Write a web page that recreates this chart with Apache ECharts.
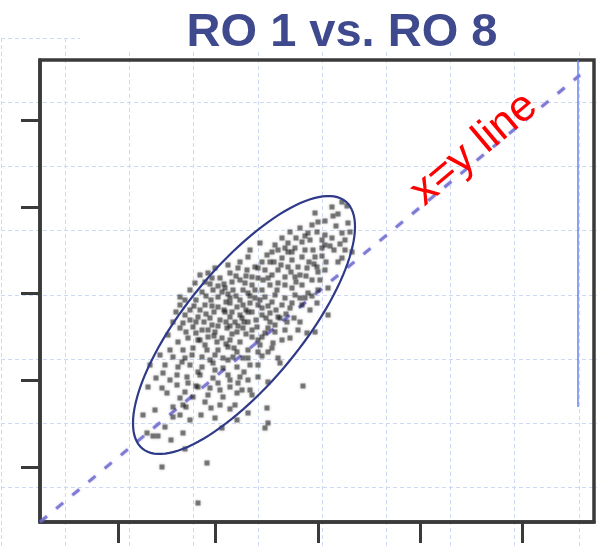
<!DOCTYPE html>
<html><head><meta charset="utf-8">
<script src="https://cdn.jsdelivr.net/npm/echarts@6/dist/echarts.min.js"></script>
<style>html,body{margin:0;padding:0;background:#fff;}#c{width:597px;height:549px;}</style>
</head><body><div id="c"></div>
<script>
const titleText = 'RO 1 vs. RO 8';
const annotationText = 'x=y line';
const xTickValues = [0.78, 1.75, 2.78, 3.80, 4.82];
const yTickValues = [0.55, 1.42, 2.29, 3.15, 4.02];
const xRange = [0, 5.54];
const yRange = [0, 4.62];
const diagonalLine = [[0, 0], [5.40, 4.47]];
const markerLine = [[5.38, 4.62], [5.38, 1.15]];
const ellipseCenter = [2.04, 1.97];
const ellipseSemiAxes = [1.60, 0.58];
const ellipseAngleDeg = 50.6;
const scatterPoints = [
[3.02,3.20],[2.92,3.15],[3.07,3.16],[2.75,3.09],[2.93,3.06],[2.85,3.01],[3.08,2.99],[2.72,2.97],[2.60,2.94],[2.77,2.90],
[2.85,2.87],[2.68,2.89],[3.02,2.89],[3.10,2.90],[2.82,2.82],[2.85,2.77],[3.05,2.82],[2.42,2.84],[2.20,2.79],[2.48,2.79],
[2.62,2.80],[2.55,2.74],[2.32,2.70],[2.38,2.72],[2.48,2.70],[2.73,2.72],[2.82,2.74],[3.05,2.72],[3.12,2.70],[2.27,2.67],
[2.08,2.65],[2.42,2.64],[2.52,2.62],[2.62,2.65],[2.75,2.65],[3.02,2.64],[2.48,2.55],[2.58,2.55],[2.67,2.54],[2.77,2.55],
[2.85,2.52],[2.38,2.52],[2.25,2.52],[2.15,2.55],[2.45,2.45],[2.55,2.45],[2.72,2.42],[2.80,2.42],[2.62,2.37],[2.38,2.39],
[2.52,2.34],[2.78,2.32],[2.68,2.29],[2.07,2.52],[2.12,2.45],[2.18,2.44],[2.12,2.37],[2.22,2.32],[2.08,2.29],[2.30,2.37],
[2.37,2.32],[2.25,2.25],[2.15,2.24],[2.96,2.96],[2.90,2.76],[2.98,2.60],[2.70,2.82],[2.50,2.90],[2.30,2.60],[2.00,2.60],
[2.88,2.34],
[1.68,2.49],[1.80,2.44],[1.90,2.49],[1.98,2.54],[2.00,2.42],[1.85,2.34],[1.73,2.32],[1.62,2.30],[1.93,2.32],[2.03,2.32],
[1.40,2.25],[1.78,2.25],[1.90,2.24],[1.55,2.39],[1.50,2.32],[1.45,2.22],[1.65,2.40],[1.88,2.57],[1.75,2.54],
[1.40,2.17],[1.65,2.17],[1.78,2.15],[1.90,2.19],[1.97,2.15],[2.03,2.17],[1.33,2.00],[1.43,1.99],[1.58,2.05],[1.70,2.04],
[1.80,2.02],[1.90,2.05],[2.00,2.07],[1.40,1.94],[1.53,1.95],[1.62,1.92],[1.75,1.90],[1.87,1.94],[1.97,1.90],[2.03,1.94],
[1.38,1.80],[1.48,1.84],[1.58,1.82],[1.68,1.85],[1.77,1.80],[1.90,1.82],[2.00,1.80],[1.30,1.72],[1.43,1.72],[1.53,1.74],
[1.67,1.72],[1.78,1.72],[1.88,1.75],[1.97,1.70],[1.20,1.67],[1.33,1.65],[1.45,1.64],[1.62,1.65],[1.70,1.62],[1.83,1.64],
[1.93,1.65],[2.03,1.64],[1.10,1.57],[1.25,1.57],[1.38,1.55],[1.50,1.57],[1.62,1.55],[1.73,1.59],[1.83,1.54],[1.97,1.55],
[1.23,1.49],[1.37,1.47],[1.47,1.45],[1.60,1.47],[1.73,1.44],[1.88,1.47],[2.00,1.45],[1.08,1.35],[1.22,1.34],[1.37,1.37],
[1.48,1.39],[1.58,1.35],[1.70,1.34],[1.78,1.39],[1.90,1.35],[1.98,1.39],[1.27,1.29],[1.40,1.24],[1.53,1.25],[1.68,1.27],
[1.83,1.25],[1.97,1.29],[1.33,1.15],[1.43,1.17],[1.50,2.12],[1.60,2.12],[1.85,2.10],[1.95,2.00],[1.72,1.97],[1.82,1.84],
[1.56,1.89],[1.45,2.07],[1.36,2.10],[1.28,1.87],
[2.10,2.19],[2.18,2.17],[2.32,2.20],[2.42,2.17],[2.52,2.19],[2.62,2.17],[2.77,2.19],[2.08,2.10],[2.22,2.07],[2.30,2.09],
[2.38,2.05],[2.47,2.00],[2.60,2.00],[2.88,2.07],[2.08,2.00],[2.17,1.95],[2.25,1.89],[2.35,1.90],[2.45,1.92],[2.67,1.89],
[2.75,1.90],[2.12,1.85],[2.22,1.85],[2.33,1.79],[2.42,1.82],[2.08,1.72],[2.18,1.70],[2.38,1.64],[2.40,1.59],[2.18,1.57],
[2.10,1.57],[2.18,1.45],[2.08,1.42],[2.28,1.40],[2.63,1.36],[2.10,1.32],[2.27,1.14],[2.55,2.27],[2.45,2.24],[2.65,2.24],
[2.70,2.12],[2.30,2.00],[2.20,1.77],[2.28,1.70],[2.04,1.50],[2.12,1.27],
[1.03,1.07],[1.33,1.05],[1.40,1.07],[1.61,1.07],[1.82,0.94],[1.07,0.89],[1.13,0.86],[1.18,0.86],[1.25,0.95],[1.31,0.82],
[1.43,0.89],[1.45,0.73],[1.22,0.55],[1.67,0.59],[1.58,0.19],[2.08,1.09],[2.28,0.99],[2.25,0.94],[1.46,1.15],[1.71,1.14],
[1.90,1.13],[1.15,1.12],[1.50,1.02],[1.75,1.04],[1.97,1.02],
[1.56,2.22],[1.71,2.22],[1.86,2.20],[1.96,2.26],[2.06,2.12],[2.16,2.02],[2.28,2.16],[2.36,2.12],[2.46,2.08],[2.54,2.04],
[1.70,2.38],[1.82,2.30],[1.92,2.40],[2.05,2.39],[2.15,2.32],[2.23,2.42],[2.32,2.47],[2.41,2.57],[2.51,2.50],[2.60,2.47],
[2.69,2.60],[2.78,2.50],[2.86,2.60],[2.94,2.72],[3.00,2.78],[2.65,2.72],[2.56,2.84],[2.45,2.74],[2.35,2.77],[2.22,2.60],
[2.10,2.72],[1.64,2.00],[1.74,2.10],[1.86,2.00],[1.92,1.88],[2.04,2.00],[2.12,1.92],[2.22,2.14],[1.65,1.77],[1.75,1.67],
[1.88,1.62],[1.52,1.67],[1.58,1.50],[1.75,1.52],[1.90,1.42],[1.45,1.30],[1.30,1.42],[1.16,1.44],[2.02,1.32],[1.95,1.17],
[1.80,1.17],[1.65,1.20],
[1.60,2.47],[1.72,2.44],[1.84,2.38],[1.96,2.46],[2.06,2.46],[1.78,2.36],[1.66,2.26],[1.88,2.28],[2.00,2.22],[2.10,2.26],
[2.20,2.22],[1.54,2.16],[1.72,2.16],[1.84,2.12],[1.92,2.10],[2.02,2.04],[2.12,2.10],[2.26,2.04],[2.35,1.97],[1.50,2.02],
[1.66,2.08],[1.78,1.96],[1.90,1.96],[1.68,1.92],[1.46,1.90],[1.60,1.82],[1.86,1.78],[2.06,1.88],[2.18,1.82],[2.28,1.94],
[2.40,2.04],[2.50,2.14],[2.60,2.24],[2.72,2.26],[2.35,2.27],[2.45,2.37],[2.56,2.40],[2.66,2.46],[2.74,2.58],[2.82,2.66],
[2.92,2.84],[2.28,2.44],[2.18,2.54],[2.34,2.60],[2.52,2.70],[2.65,2.86],[2.78,3.00],[2.98,3.08],[1.56,2.00],[1.98,1.96],
[1.74,1.86],[1.94,1.74],[2.08,1.64],[2.22,1.66],[2.32,1.74],[2.50,1.84],[2.58,1.92],[1.42,1.60],[1.56,1.36],[1.80,1.32]
];

const chart = echarts.init(document.getElementById('c'), null, {renderer: 'canvas'});
const bgAxis = {
  show: true, axisLine: {show: false}, axisTick: {show: false}, axisLabel: {show: false},
  splitLine: {show: true, lineStyle: {color: '#cfd9f5', width: 1, type: [4, 3]}}
};
const frameColor = '#3a3a3a';
chart.setOption({
  animation: false,
  backgroundColor: '#ffffff',
  title: {
    text: titleText, left: 337, top: 5, textAlign: 'center', z: 10,
    textStyle: {fontFamily: '"Liberation Sans", Arial, sans-serif', fontSize: 47, fontWeight: 'bold', color: '#3f4a8e'}
  },
  graphic: [
    {type: 'rect', left: 80, top: 0, z: 5, shape: {width: 517, height: 52}, style: {fill: '#ffffff'}},
    {type: 'text', x: 474, y: 149, rotation: 40 * Math.PI / 180, z: 20,
     style: {text: annotationText, fill: '#ff0000', font: '44px "Liberation Sans", Arial, sans-serif', align: 'center', verticalAlign: 'middle'}}
  ],
  grid: [
    {left: 40, right: 3, top: 60, bottom: 27, show: true, borderColor: frameColor, borderWidth: 3.5, backgroundColor: 'transparent', z: 3},
    {left: 1, right: 0, top: 38, bottom: 0}
  ],
  xAxis: [
    {type: 'value', gridIndex: 0, min: xRange[0], max: xRange[1], z: 4,
     axisLine: {show: true, onZero: false, lineStyle: {color: frameColor, width: 3.5}},
     axisTick: {show: true, customValues: xTickValues, length: 21, inside: false, lineStyle: {color: frameColor, width: 3}},
     axisLabel: {show: false}, splitLine: {show: false}},
    Object.assign({type: 'value', gridIndex: 1, min: 0, max: 596, interval: 64.2}, bgAxis)
  ],
  yAxis: [
    {type: 'value', gridIndex: 0, min: yRange[0], max: yRange[1], z: 4,
     axisLine: {show: true, onZero: false, lineStyle: {color: frameColor, width: 3.5}},
     axisTick: {show: true, customValues: yTickValues, length: 19, inside: false, lineStyle: {color: frameColor, width: 3}},
     axisLabel: {show: false}, splitLine: {show: false}},
    Object.assign({type: 'value', gridIndex: 1, min: 0, max: 511, interval: 64.2, inverse: true}, bgAxis)
  ],
  series: [
    {type: 'line', xAxisIndex: 0, yAxisIndex: 0, data: diagonalLine, symbol: 'none', z: 5,
     lineStyle: {color: 'rgba(110,105,205,0.8)', width: 3, type: [9, 12], shadowBlur: 2, shadowColor: 'rgba(105,105,215,0.6)'}},
    {type: 'scatter', xAxisIndex: 0, yAxisIndex: 0, data: scatterPoints, symbol: 'rect', symbolSize: 5, z: 6,
     itemStyle: {color: 'rgba(25,25,25,0.62)', shadowBlur: 3, shadowColor: 'rgba(0,0,0,0.55)'}},
    {type: 'line', xAxisIndex: 0, yAxisIndex: 0, data: markerLine, symbol: 'none', z: 7,
     lineStyle: {color: '#6384f0', width: 1.5}},
    {type: 'custom', xAxisIndex: 0, yAxisIndex: 0, data: [ellipseCenter], z: 8,
     renderItem: function (params, api) {
       const c = api.coord([api.value(0), api.value(1)]);
       const s = api.size([1, 1]);
       const a = ellipseSemiAxes[0] * s[0], b = ellipseSemiAxes[1] * s[1];
       const th = ellipseAngleDeg * Math.PI / 180;
       const pts = [];
       for (let i = 0; i < 120; i++) {
         const t = i / 120 * Math.PI * 2;
         const u = a * Math.cos(t), v = b * Math.sin(t);
         pts.push([c[0] + u * Math.cos(th) - v * Math.sin(th), c[1] - (u * Math.sin(th) + v * Math.cos(th))]);
       }
       return {type: 'polygon', shape: {points: pts}, style: {fill: 'rgba(0,0,0,0)', stroke: '#2f3a88', lineWidth: 2.2}};
     }}
  ]
});
</script></body></html>
